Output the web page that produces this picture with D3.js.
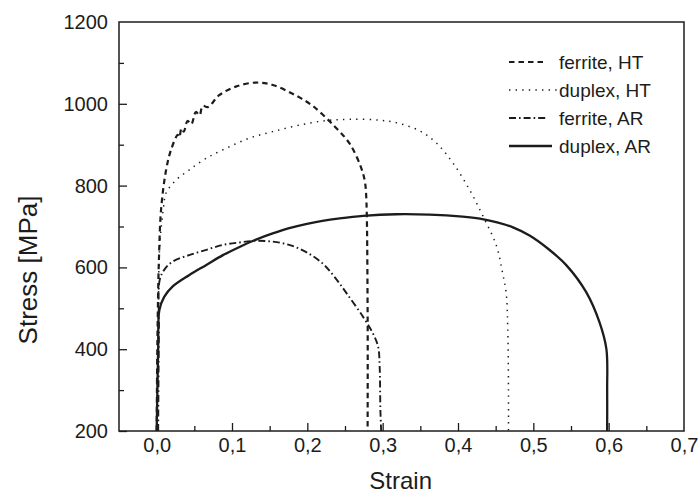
<!DOCTYPE html>
<html>
<head>
<meta charset="utf-8">
<script src="https://cdn.jsdelivr.net/npm/d3@7"></script>
<style>
  body { margin: 0; background: #fff; }
  text { font-family: "Liberation Sans", Arial, sans-serif; fill: #1c1c1c; }
</style>
</head>
<body>
<div id="chart"></div>
<script>
// values (strain, stress in MPa)
var seriesNames = ["ferrite, HT", "duplex, HT", "ferrite, AR", "duplex, AR"];

var ferriteHTStrain = [0.000, 0.001, 0.003, 0.006, 0.0125, 0.019, 0.028, 0.030, 0.033, 0.036, 0.041, 0.046, 0.052, 0.057, 0.061, 0.068, 0.083, 0.105, 0.132, 0.154, 0.181, 0.207, 0.236, 0.256, 0.271, 0.276, 0.278, 0.280, 0.280];
var ferriteHTStress = [200, 420, 620, 745, 838, 887, 924, 918, 940, 932, 958, 950, 980, 972, 995, 992, 1021, 1042, 1052, 1046, 1024, 995, 945, 903, 846, 814, 780, 500, 200];

var duplexHTStrain = [0.000, 0.002, 0.004, 0.009, 0.0125, 0.026, 0.043, 0.066, 0.092, 0.123, 0.154, 0.190, 0.225, 0.256, 0.296, 0.322, 0.349, 0.371, 0.393, 0.415, 0.433, 0.451, 0.459, 0.464, 0.466, 0.467, 0.467];
var duplexHTStress = [200, 450, 650, 745, 782, 814, 838, 867, 891, 916, 932, 948, 959, 962, 960, 952, 934, 905, 856, 791, 726, 653, 588, 537, 455, 300, 200];

var ferriteARStrain = [0.002, 0.003, 0.004, 0.010, 0.021, 0.043, 0.066, 0.088, 0.110, 0.132, 0.154, 0.176, 0.198, 0.220, 0.236, 0.252, 0.274, 0.287, 0.294, 0.296, 0.297, 0.298];
var ferriteARStress = [200, 450, 569, 594, 614, 630, 643, 655, 661, 665, 663, 655, 638, 610, 577, 537, 479, 439, 406, 357, 250, 200];

var duplexARStrain = [0.000, 0.002, 0.0036, 0.010, 0.021, 0.043, 0.066, 0.088, 0.110, 0.132, 0.154, 0.176, 0.198, 0.220, 0.243, 0.274, 0.318, 0.362, 0.406, 0.429, 0.452, 0.473, 0.495, 0.520, 0.544, 0.570, 0.588, 0.597, 0.598, 0.598];
var duplexARStress = [200, 400, 496, 528, 553, 581, 606, 630, 650, 668, 683, 696, 706, 714, 720, 726, 730, 729, 724, 719, 710, 698, 678, 645, 605, 540, 465, 400, 300, 200];

var xTicks = [0.0, 0.1, 0.2, 0.3, 0.4, 0.5, 0.6, 0.7];
var xMinorTicks = [0.05, 0.15, 0.25, 0.35, 0.45, 0.55, 0.65];
var yTicks = [200, 400, 600, 800, 1000, 1200];
var yMinorTicks = [300, 500, 700, 900, 1100];

var margin = {top: 22, right: 15, bottom: 68, left: 119};
var width = 699 - margin.left - margin.right;
var height = 499 - margin.top - margin.bottom;
var ink = "#1c1c1c";

var x = d3.scaleLinear().domain([-0.05, 0.7]).range([0, width]);
var y = d3.scaleLinear().domain([200, 1200]).range([height, 0]);

function zip(xs, ys) {
  return xs.map(function(d, i) { return {x: d, y: ys[i]}; });
}

// line styles per series
var series = [
  {name: seriesNames[0], values: zip(ferriteHTStrain, ferriteHTStress), dash: "5.5,4", w: 2.2, legendLen: 38},
  {name: seriesNames[1], values: zip(duplexHTStrain, duplexHTStress), dash: "1.4,5.2", w: 1.5, legendLen: 49},
  {name: seriesNames[2], values: zip(ferriteARStrain, ferriteARStress), dash: "7,3,1.6,3", w: 1.9, legendLen: 39},
  {name: seriesNames[3], values: zip(duplexARStrain, duplexARStress), dash: null, w: 2.3, legendLen: 43}
];

var svg = d3.select("#chart").append("svg")
  .attr("width", 699)
  .attr("height", 499)
  .style("background", "#fff");

var g = svg.append("g")
  .attr("transform", "translate(" + margin.left + "," + margin.top + ")");

// axes with inward ticks
var xAxis = g.append("g")
  .attr("transform", "translate(0," + height + ")")
  .call(d3.axisBottom(x).tickValues(xTicks).tickSizeInner(-8).tickSizeOuter(0).tickPadding(7)
    .tickFormat(function(d) { return d3.format(".1f")(d).replace(".", ","); }));
g.append("g")
  .attr("transform", "translate(0," + height + ")")
  .call(d3.axisBottom(x).tickValues(xMinorTicks).tickSizeInner(-5).tickSizeOuter(0).tickFormat(""));

var yAxis = g.append("g")
  .call(d3.axisLeft(y).tickValues(yTicks).tickSizeInner(-8).tickSizeOuter(0).tickPadding(11)
    .tickFormat(d3.format("d")));
g.append("g")
  .call(d3.axisLeft(y).tickValues(yMinorTicks).tickSizeInner(-5).tickSizeOuter(0).tickFormat(""));

g.selectAll(".domain").remove();
g.selectAll(".tick line").attr("stroke", ink).attr("stroke-width", 1.3);
g.selectAll(".tick text")
  .style("font-family", "'Liberation Sans', Arial, sans-serif")
  .style("font-size", "20px")
  .attr("fill", ink);
xAxis.selectAll(".tick:last-of-type line").remove();
yAxis.selectAll(".tick:last-of-type line").remove();

// frame
g.append("rect")
  .attr("width", width)
  .attr("height", height)
  .attr("fill", "none")
  .attr("stroke", ink)
  .attr("stroke-width", 1.5);

var line = d3.line()
  .x(function(d) { return x(d.x); })
  .y(function(d) { return y(d.y); })
  .curve(d3.curveCatmullRom.alpha(0.5));

g.selectAll(".curve")
  .data(series)
  .enter()
  .append("path")
  .attr("class", "curve")
  .attr("d", function(d) { return line(d.values); })
  .attr("fill", "none")
  .attr("stroke", ink)
  .attr("stroke-width", function(d) { return d.w; })
  .attr("stroke-dasharray", function(d) { return d.dash; });

// legend
var legend = g.append("g")
  .attr("transform", "translate(" + (509 - margin.left) + "," + (62 - margin.top) + ")");

var rows = legend.selectAll(".row")
  .data(series)
  .enter()
  .append("g")
  .attr("class", "row")
  .attr("transform", function(d, i) { return "translate(0," + (i * 28) + ")"; });

rows.append("line")
  .attr("x1", 0)
  .attr("x2", function(d) { return d.legendLen; })
  .attr("y1", 0)
  .attr("y2", 0)
  .attr("stroke", ink)
  .attr("stroke-width", function(d) { return d.w; })
  .attr("stroke-dasharray", function(d) { return d.dash; });

rows.append("text")
  .attr("x", 50)
  .attr("dy", "0.35em")
  .style("font-size", "19px")
  .text(function(d) { return d.name; });

// axis titles
svg.append("text")
  .attr("x", margin.left + x(0.3) + 18)
  .attr("y", 489)
  .attr("text-anchor", "middle")
  .style("font-size", "24px")
  .text("Strain");

svg.append("text")
  .attr("transform", "translate(37," + 270 + ") rotate(-90)")
  .attr("text-anchor", "middle")
  .style("font-size", "26px")
  .text("Stress [MPa]");
</script>
</body>
</html>
